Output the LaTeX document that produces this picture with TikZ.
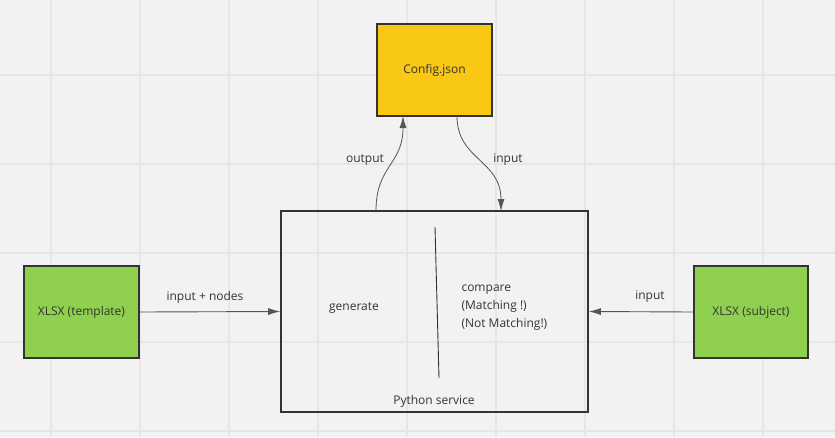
\documentclass[tikz,border=0pt]{standalone}
\usepackage{fontspec}
\setmainfont{Open Sans}
\usetikzlibrary{arrows.meta, positioning, calc}
\definecolor{boardbg}{HTML}{F2F2F2}
\definecolor{gridline}{HTML}{E6E6E6}
\definecolor{cfgyellow}{HTML}{F9C814}
\definecolor{xlsgreen}{HTML}{8FD14F}
\definecolor{inkgray}{HTML}{333333}
\definecolor{wiregray}{HTML}{555555}
\begin{document}
\begin{tikzpicture}[x=1pt, y=-1pt, font=\fontsize{12}{18}\selectfont, text=inkgray,
  card/.style={draw=inkgray, line width=1.6pt, minimum width=115pt, minimum height=92pt, inner sep=0pt},
  conn/.style={wiregray, line width=0.9pt, -{Latex[length=12pt, width=7pt]}}]
  % board and grid
  \fill[boardbg] (0,0) rectangle (835,437);
  \useasboundingbox (0,0) rectangle (835,437);
  \foreach \gx in {51,140,...,800} \draw[gridline, line width=1.2pt] (\gx,0) -- (\gx,437);
  \foreach \gy in {75,164,...,437} \draw[gridline, line width=1.2pt] (0,\gy) -- (835,\gy);

  % boxes
  \node[card, fill=cfgyellow] (cfg) at (434.5, 70) {Config.json};
  \node[card, fill=xlsgreen] (tmpl) at (81.5, 312) {XLSX (template)};
  \node[card, fill=xlsgreen, minimum width=114pt] (subj) at (751, 312) {XLSX (subject)};
  \node[draw=inkgray, line width=1.6pt, minimum width=307pt, minimum height=201pt, inner sep=0pt] (svc) at (434.5, 311.5) {};

  % inside the service
  \node (gen) at (354, 308) {generate};
  \node[anchor=west, align=left] (cmp) at (458, 308) {compare\\(Matching !)\\(Not Matching!)};
  \node (svcname) at (434, 401) {Python service};
  \coordinate (divtop) at (435, 227);
  \coordinate (divbot) at (439, 378);
  \draw[inkgray, line width=0.9pt] (divtop) -- (divbot);

  % side inputs
  \draw[conn] (tmpl.east) -- (svc.west);
  \node (lbltmpl) at (205, 297) {input + nodes};
  \draw[conn] (subj.west) -- (svc.east);
  \node (lblsubj) at (650, 297) {input};

  % config round trip
  \coordinate (outS) at (376, 211);
  \coordinate (outE) at (403, 116);
  \coordinate (inS) at (457, 116);
  \coordinate (inE) at (501, 211);
  \draw[conn, line width=0.8pt] (outS) .. controls (376, 165) and (403, 165) .. (outE);
  \draw[conn, line width=0.8pt] (inS) .. controls (457, 160) and (501, 160) .. (inE);
  \node (lblout) at (365, 160) {output};
  \node (lblin) at (508, 160) {input};
\end{tikzpicture}
\end{document}
